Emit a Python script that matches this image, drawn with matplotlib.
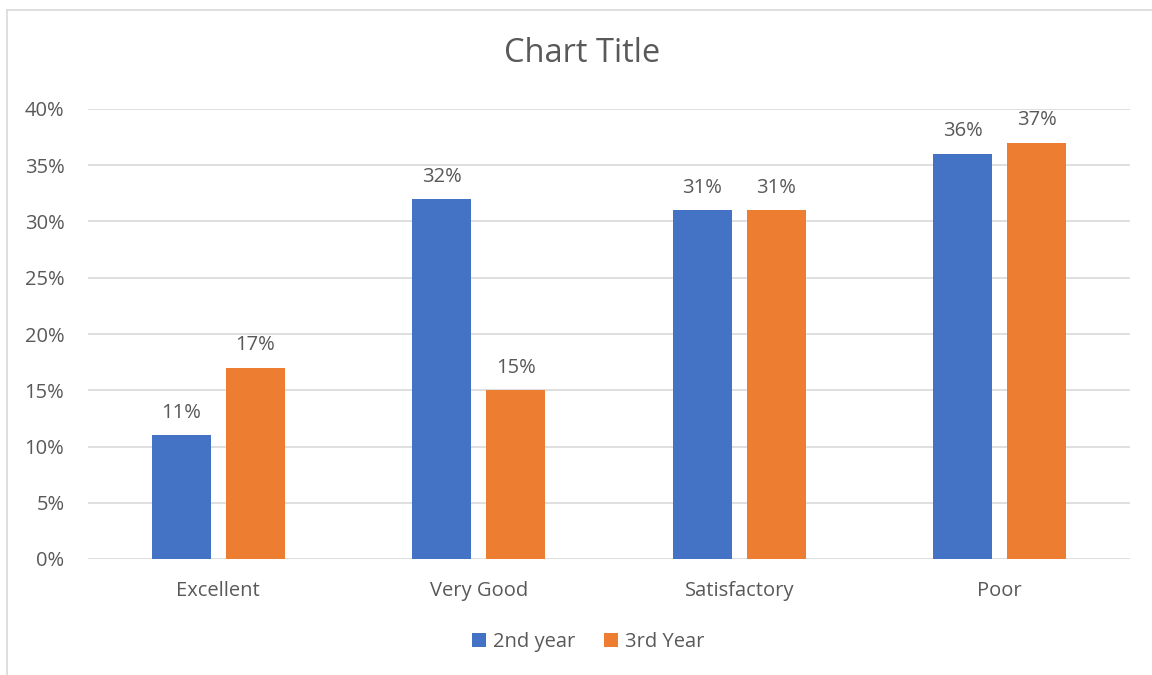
import matplotlib
matplotlib.use('Agg')
import matplotlib.pyplot as plt
from matplotlib.lines import Line2D
import numpy as np

categories = ['Excellent', 'Very Good', 'Satisfactory', 'Poor']
second_year = [0.11, 0.32, 0.31, 0.36]
third_year = [0.17, 0.15, 0.31, 0.37]
series_names = ['2nd year', '3rd Year']

blue = '#4472C4'
orange = '#ED7D31'
text_col = '#595959'
grid_col = '#D9D9D9'

plt.rcParams['font.family'] = ['Open Sans', 'DejaVu Sans']

fig = plt.figure(figsize=(11.52, 6.75), dpi=100)
ax = fig.add_axes([88 / 1152, 1 - 559 / 675, (1130 - 88) / 1152, (559 - 109) / 675])

x = np.arange(len(categories))
width = 0.227
offset = 0.142
b1 = ax.bar(x - offset, second_year, width, color=blue, label=series_names[0], zorder=3)
b2 = ax.bar(x + offset, third_year, width, color=orange, label=series_names[1], zorder=3)

for bars, vals in ((b1, second_year), (b2, third_year)):
    for bar, v in zip(bars, vals):
        ax.annotate(f'{round(v * 100)}%', (bar.get_x() + bar.get_width() / 2, v),
                    xytext=(0, 9), textcoords='offset points', ha='center', va='bottom',
                    fontsize=14.5, color=text_col)

ax.set_xlim(-0.5, 3.5)
ax.set_ylim(0, 0.40)
ax.set_yticks(np.arange(0, 0.401, 0.05))
ax.set_yticklabels([f'{int(round(t * 100))}%' for t in np.arange(0, 0.401, 0.05)])
ax.set_xticks(x)
ax.set_xticklabels(categories)
ax.tick_params(axis='both', length=0, labelsize=14.5, labelcolor=text_col)
ax.tick_params(axis='x', pad=16)
ax.tick_params(axis='y', pad=17)
ax.yaxis.grid(True, color=grid_col, linewidth=1.2, zorder=0)
for s in ax.spines.values():
    s.set_visible(False)

fig.text(582 / 1152, 1 - 53 / 675, 'Chart Title', ha='center', va='center',
         fontsize=23.5, color=text_col)

ax.legend(loc='center', bbox_to_anchor=(588 / 1152, 1 - 642 / 675),
          bbox_transform=fig.transFigure, ncol=2, frameon=False, fontsize=14.5,
          labelcolor=text_col, handlelength=0.7, handleheight=0.7,
          handletextpad=0.35, columnspacing=1.4)

# chart area border (left and top edges visible)
fig.add_artist(Line2D([7 / 1152, 7 / 1152], [0, 1 - 10 / 675], color=grid_col, linewidth=1.2))
fig.add_artist(Line2D([7 / 1152, 1], [1 - 10 / 675, 1 - 10 / 675], color=grid_col, linewidth=1.2))

fig.savefig('out.png', dpi=100)
